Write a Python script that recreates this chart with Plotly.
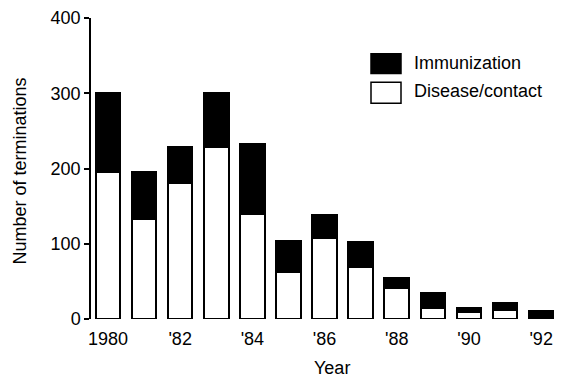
import plotly.graph_objects as go

years = [1980, 1981, 1982, 1983, 1984, 1985, 1986, 1987, 1988, 1989, 1990, 1991, 1992]
disease = [196, 133, 181, 229, 140, 62, 108, 69, 41, 15, 9, 12, 0]
immunization = [104, 63, 47, 71, 92, 42, 30, 33, 13, 19, 5, 9, 11]
tick_years = [1980, 1982, 1984, 1986, 1988, 1990, 1992]
tick_labels = ["1980", "'82", "'84", "'86", "'88", "'90", "'92"]
y_ticks = [0, 100, 200, 300, 400]

FONT = "Liberation Sans, Arial, sans-serif"
FS = 18

fig = go.Figure()
fig.add_trace(go.Bar(x=years, y=disease, name="Disease/contact",
                     marker=dict(color="white", line=dict(color="black", width=2)),
                     showlegend=False))
fig.add_trace(go.Bar(x=years, y=immunization, name="Immunization",
                     marker=dict(color="black", line=dict(color="black", width=2)),
                     showlegend=False))

OFF = 8  # page body margin
W, H = 563 - 2 * OFF, 387 - 2 * OFF
L, R, T, B = 91 - OFF, 0, 15 - OFF, 387 - OFF - 319
pw, ph = W - L - R, H - T - B
step = 36.1  # pixels per year

def px(x):
    return (x - OFF - L) / pw

def py(y):
    return (H - B - (y - OFF)) / ph

shapes = [
    dict(type="rect", xref="paper", yref="paper", x0=px(371), x1=px(401), y0=py(71), y1=py(51),
         fillcolor="black", line=dict(color="black", width=1.5)),
    dict(type="rect", xref="paper", yref="paper", x0=px(371), x1=px(401), y0=py(101), y1=py(80),
         fillcolor="white", line=dict(color="black", width=1.5)),
]
txt = dict(size=FS, color="black", family=FONT)
annotations = [
    dict(text="Immunization", xref="paper", yref="paper", x=px(412), y=py(60),
         xanchor="left", yanchor="middle", showarrow=False, font=txt),
    dict(text="Disease/contact", xref="paper", yref="paper", x=px(412), y=py(89),
         xanchor="left", yanchor="middle", showarrow=False, font=txt),
    dict(text="Year", xref="paper", yref="paper", x=px(332), y=py(381),
         xanchor="center", yanchor="bottom", showarrow=False, font=txt),
    dict(text="Number of terminations", xref="paper", yref="paper", x=px(20), y=py(170),
         xanchor="center", yanchor="middle", textangle=-90, showarrow=False, font=txt),
]

fig.update_layout(
    width=W, height=H,
    margin=dict(l=L, r=R, t=T, b=B, pad=0),
    barmode="stack", bargap=0.32,
    plot_bgcolor="white", paper_bgcolor="white",
    font=dict(family=FONT, size=FS, color="black"),
    shapes=shapes, annotations=annotations,
    xaxis=dict(range=[1979.53, 1979.53 + pw / step], tickvals=tick_years, ticktext=tick_labels,
               showline=False, showgrid=False, zeroline=False, ticks="", ticklen=0,
               ticklabelstandoff=7, tickfont=txt, ticklabeloverflow="allow"),
    yaxis=dict(range=[0, 400], tickvals=y_ticks, showline=True, linecolor="black", linewidth=1.5,
               ticks="outside", ticklen=5, tickwidth=1.5, tickcolor="black",
               showgrid=False, zeroline=False, tickfont=txt, ticklabeloverflow="allow"),
)

fig.write_html("out.html")
